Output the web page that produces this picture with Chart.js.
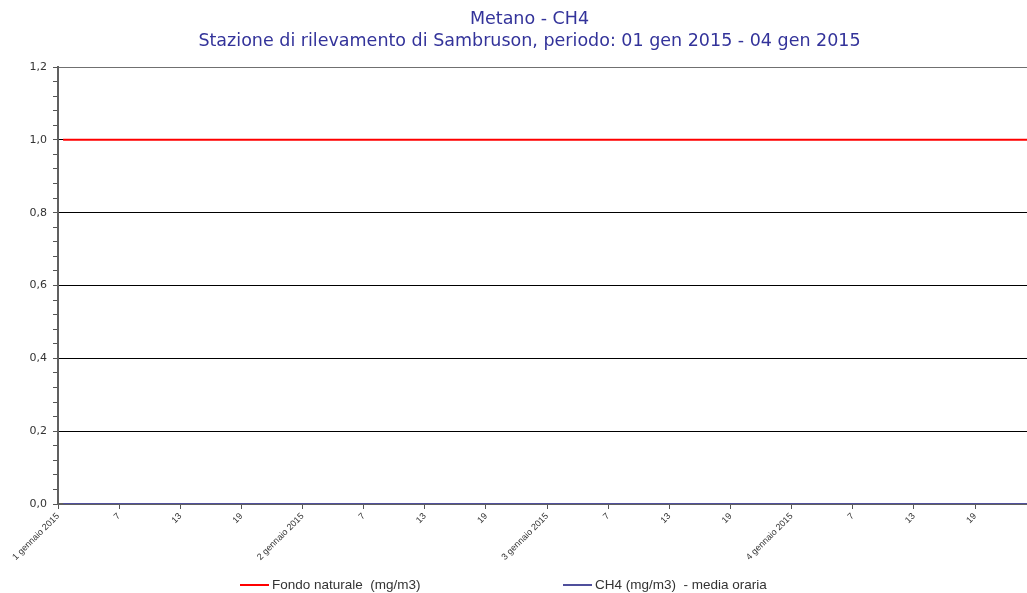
<!DOCTYPE html>
<html>
<head>
<meta charset="utf-8">
<script src="https://cdn.jsdelivr.net/npm/chart.js@4/dist/chart.umd.min.js"></script>
<style>
    body { margin: 0; background: #fff; }
    #wrap { position: relative; width: 1027px; height: 593px; }
    #legend { position: absolute; top: 576px; left: 0; width: 1027px; height: 17px;
              font: 13.5px "Liberation Sans", Arial, sans-serif; color: #333; }
    .item { position: absolute; top: 0; white-space: pre; line-height: 17px; }
    .item span.swatch { display: inline-block; width: 29px; height: 2px; vertical-align: middle; margin-right: 3px; }
</style>
</head>
<body>
<div id="wrap">
    <canvas id="ch4-chart" width="1027" height="593"></canvas>
    <div id="legend"></div>
</div>
<script>
// Metano - CH4, Sambruson, 01-04 gen 2015 (valori orari)

const days = ['1 gennaio 2015', '2 gennaio 2015', '3 gennaio 2015', '4 gennaio 2015'];
const hours = [1, 2, 3, 4, 5, 6, 7, 8, 9, 10, 11, 12, 13, 14, 15, 16, 17, 18, 19, 20, 21, 22, 23, 24];
const labelHours = [1, 7, 13, 19];

// Fondo naturale (mg/m3)
const fondoNaturale = [
    1.0, 1.0, 1.0, 1.0, 1.0, 1.0, 1.0, 1.0, 1.0, 1.0, 1.0, 1.0, 1.0, 1.0, 1.0, 1.0, 1.0, 1.0, 1.0, 1.0, 1.0, 1.0, 1.0, 1.0,
    1.0, 1.0, 1.0, 1.0, 1.0, 1.0, 1.0, 1.0, 1.0, 1.0, 1.0, 1.0, 1.0, 1.0, 1.0, 1.0, 1.0, 1.0, 1.0, 1.0, 1.0, 1.0, 1.0, 1.0,
    1.0, 1.0, 1.0, 1.0, 1.0, 1.0, 1.0, 1.0, 1.0, 1.0, 1.0, 1.0, 1.0, 1.0, 1.0, 1.0, 1.0, 1.0, 1.0, 1.0, 1.0, 1.0, 1.0, 1.0,
    1.0, 1.0, 1.0, 1.0, 1.0, 1.0, 1.0, 1.0, 1.0, 1.0, 1.0, 1.0, 1.0, 1.0, 1.0, 1.0, 1.0, 1.0, 1.0, 1.0, 1.0, 1.0, 1.0, 1.0
];
// CH4 (mg/m3) - media oraria
const ch4Orario = [
    0, 0, 0, 0, 0, 0, 0, 0, 0, 0, 0, 0, 0, 0, 0, 0, 0, 0, 0, 0, 0, 0, 0, 0,
    0, 0, 0, 0, 0, 0, 0, 0, 0, 0, 0, 0, 0, 0, 0, 0, 0, 0, 0, 0, 0, 0, 0, 0,
    0, 0, 0, 0, 0, 0, 0, 0, 0, 0, 0, 0, 0, 0, 0, 0, 0, 0, 0, 0, 0, 0, 0, 0,
    0, 0, 0, 0, 0, 0, 0, 0, 0, 0, 0, 0, 0, 0, 0, 0, 0, 0, 0, 0, 0, 0, 0, 0
];

const yTicks = [0.0, 0.2, 0.4, 0.6, 0.8, 1.0, 1.2];

// one label per hour: the date on hour 1, the hour number otherwise
const labels = [];
const tickIndex = [];
days.forEach(d => hours.forEach(h => {
    if (labelHours.includes(h)) tickIndex.push(labels.length);
    labels.push(h === 1 ? d : String(h));
}));

const toPoints = arr => arr.map((v, i) => ({ x: i, y: v }));

const series = [
    { label: 'Fondo naturale  (mg/m3)', data: fondoNaturale, color: '#ff0000' },
    { label: 'CH4 (mg/m3)  - media oraria', data: ch4Orario, color: '#4f4f9c' }
];

const isMajor = v => yTicks.some(t => Math.abs(t - v) < 1e-6);

// the original title sits a little right of the canvas centre
const titleShift = {
    id: 'titleShift',
    afterLayout(chart) {
        if (chart.titleBlock) chart.titleBlock.left += 32;
    }
};

new Chart(document.getElementById('ch4-chart'), {
    type: 'line',
    data: {
        datasets: series.map(s => ({
            label: s.label,
            data: toPoints(s.data),
            borderColor: s.color,
            backgroundColor: s.color,
            borderWidth: 2,
            pointRadius: 0,
            tension: 0
        }))
    },
    plugins: [titleShift],
    options: {
        responsive: false,
        animation: false,
        devicePixelRatio: 1,
        layout: { padding: 0 },
        plugins: {
            legend: { display: false },
            tooltip: { enabled: false },
            title: {
                display: true,
                text: ['Metano - CH4', 'Stazione di rilevamento di Sambruson, periodo: 01 gen 2015 - 04 gen 2015'],
                color: '#33339a',
                font: { family: '"DejaVu Sans", sans-serif', size: 17.5, weight: 'normal', lineHeight: 22 / 17.5 },
                padding: { top: 8, bottom: 15 }
            }
        },
        scales: {
            x: {
                type: 'linear',
                min: -0.5,
                max: 94.6,
                afterBuildTicks: s => { s.ticks = tickIndex.map(i => ({ value: i - 0.5 })); },
                afterFit: s => { s.height = 89; },
                grid: { drawOnChartArea: false, drawTicks: true, tickLength: 5, tickColor: '#555' },
                border: { display: true, color: '#606060', width: 2 },
                ticks: {
                    autoSkip: false,
                    maxRotation: 45,
                    minRotation: 45,
                    padding: 2,
                    color: '#333',
                    font: { family: '"Liberation Sans", Arial, sans-serif', size: 9 },
                    callback: v => labels[Math.round(v + 0.5)]
                }
            },
            y: {
                min: 0,
                max: 1.2,
                afterFit: s => { s.width = 58; },
                grid: {
                    color: ctx => {
                        const v = ctx.tick.value;
                        if (!isMajor(v)) return 'rgba(0,0,0,0)';
                        return v > 1.1 ? '#707070' : '#000';
                    },
                    lineWidth: 1,
                    tickLength: 5,
                    tickColor: '#555'
                },
                border: { display: true, color: '#606060', width: 2 },
                ticks: {
                    stepSize: 0.04,
                    maxTicksLimit: 40,
                    autoSkip: false,
                    padding: 6,
                    color: '#333',
                    font: { family: '"DejaVu Sans", sans-serif', size: 11 },
                    callback: v => isMajor(v) ? v.toFixed(1).replace('.', ',') : ''
                }
            }
        }
    }
});

// legend drawn below the plot, spaced like the original
const legendPos = [240, 563];
const legendEl = document.getElementById('legend');
series.forEach((s, i) => {
    const item = document.createElement('div');
    item.className = 'item';
    item.style.left = legendPos[i] + 'px';
    item.innerHTML = '<span class="swatch" style="background:' + s.color + '"></span>';
    item.appendChild(document.createTextNode(s.label));
    legendEl.appendChild(item);
});
</script>
</body>
</html>
